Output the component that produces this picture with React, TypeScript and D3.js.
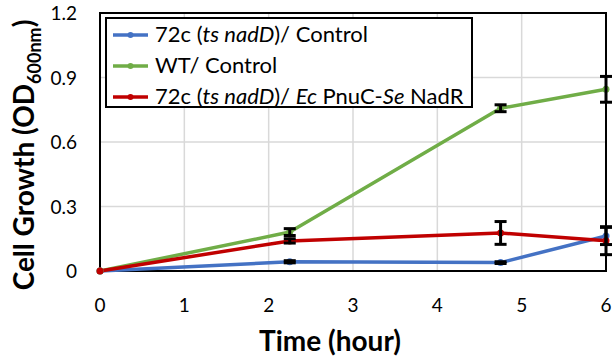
import React from 'react';
import * as d3 from 'd3';

const times = [0, 2.25, 4.75, 6];
const blueValues = [0, 0.043, 0.039, 0.163];
const blueErrors = [0, 0.005, 0.004, 0.04];
const greenValues = [0, 0.181, 0.757, 0.845];
const greenErrors = [0, 0.016, 0.016, 0.06];
const redValues = [0, 0.14, 0.177, 0.141];
const redErrors = [0, 0.01, 0.053, 0.065];
const xTicks = [0, 1, 2, 3, 4, 5, 6];
const yTicks = [0, 0.3, 0.6, 0.9, 1.2];

const series = [
  { key: 'blue', color: '#4472c4', values: blueValues, errors: blueErrors },
  { key: 'green', color: '#70ad47', values: greenValues, errors: greenErrors },
  { key: 'red', color: '#c00000', values: redValues, errors: redErrors },
];

const font = 'Lato, "Open Sans", sans-serif';

const App = () => {
  const width = 614;
  const height = 359;
  const m = { left: 100, right: 8, top: 13, bottom: 88 };

  const x = d3.scaleLinear().domain([0, 6]).range([m.left, width - m.right]);
  const y = d3.scaleLinear().domain([0, 1.2]).range([height - m.bottom, m.top]);

  const line = d3.line<number>()
    .x((d, i) => x(times[i]))
    .y(d => y(d));

  const legendItems = [
    { color: '#4472c4', label: <>72c (<tspan fontStyle="italic">ts nadD</tspan>)/ Control</> },
    { color: '#70ad47', label: <>WT/ Control</> },
    { color: '#c00000', label: <>72c (<tspan fontStyle="italic">ts nadD</tspan>)/ <tspan fontStyle="italic">Ec</tspan> PnuC-<tspan fontStyle="italic">Se</tspan> NadR</> },
  ];

  return (
    <svg width={width} height={height} style={{ position: 'absolute', left: 0, top: 0, background: '#fff' }} fontFamily={font}>
      {/* grid */}
      {xTicks.map(t => (
        <line key={'gx' + t} x1={x(t)} x2={x(t)} y1={y(0)} y2={y(1.2)} stroke="#d9d9d9" strokeWidth={1.5} />
      ))}
      {yTicks.map(t => (
        <line key={'gy' + t} x1={x(0)} x2={x(6)} y1={y(t)} y2={y(t)} stroke="#d9d9d9" strokeWidth={1.5} />
      ))}
      <rect x={x(0)} y={y(1.2)} width={x(6) - x(0)} height={y(0) - y(1.2)} fill="none" stroke="#000" strokeWidth={2} />

      {/* tick labels */}
      {xTicks.map(t => (
        <text key={'tx' + t} x={x(t)} y={y(0) + 41} textAnchor="middle" fontSize={19}>{t}</text>
      ))}
      {yTicks.map(t => (
        <text key={'ty' + t} x={x(0) - 23} y={y(t) + 7} textAnchor="end" fontSize={19}>{t === 0 ? '0' : d3.format('.1f')(t)}</text>
      ))}

      {/* axis titles */}
      <text x={330} y={351} textAnchor="middle" fontSize={28} fontWeight="bold">Time (hour)</text>
      <text transform={`translate(34, ${155}) rotate(-90)`} textAnchor="middle" fontSize={28} fontWeight="bold">
        Cell Growth (OD<tspan fontSize={18} dy={7}>600nm</tspan><tspan dy={-7}>)</tspan>
      </text>

      {/* series lines */}
      {series.map(s => (
        <path key={s.key} d={line(s.values) || ''} fill="none" stroke={s.color} strokeWidth={3.5} strokeLinejoin="round" />
      ))}
      {series.map(s => s.values.map((v, i) => (
        <circle key={s.key + 'c' + i} cx={x(times[i])} cy={y(v)} r={3.5} fill={s.color} />
      )))}

      {/* error bars */}
      {series.map(s => s.values.map((v, i) => s.errors[i] > 0 && (
        <g key={s.key + 'e' + i} stroke="#000" strokeWidth={3}>
          <line x1={x(times[i])} x2={x(times[i])} y1={y(v - s.errors[i])} y2={y(v + s.errors[i])} />
          <line x1={x(times[i]) - 6} x2={x(times[i]) + 6} y1={y(v - s.errors[i])} y2={y(v - s.errors[i])} />
          <line x1={x(times[i]) - 6} x2={x(times[i]) + 6} y1={y(v + s.errors[i])} y2={y(v + s.errors[i])} />
        </g>
      )))}

      {/* legend */}
      <rect x={106} y={18} width={366} height={89} fill="#fff" stroke="#000" strokeWidth={2} />
      {legendItems.map((it, i) => {
        const ly = 35 + i * 31;
        return (
          <g key={'l' + i}>
            <line x1={113} x2={148} y1={ly} y2={ly} stroke={it.color} strokeWidth={3.5} />
            <circle cx={130.5} cy={ly} r={3} fill={it.color} />
            <text x={155} y={ly + 7} fontSize={22}>{it.label}</text>
          </g>
        );
      })}
    </svg>
  );
};

export default App;
